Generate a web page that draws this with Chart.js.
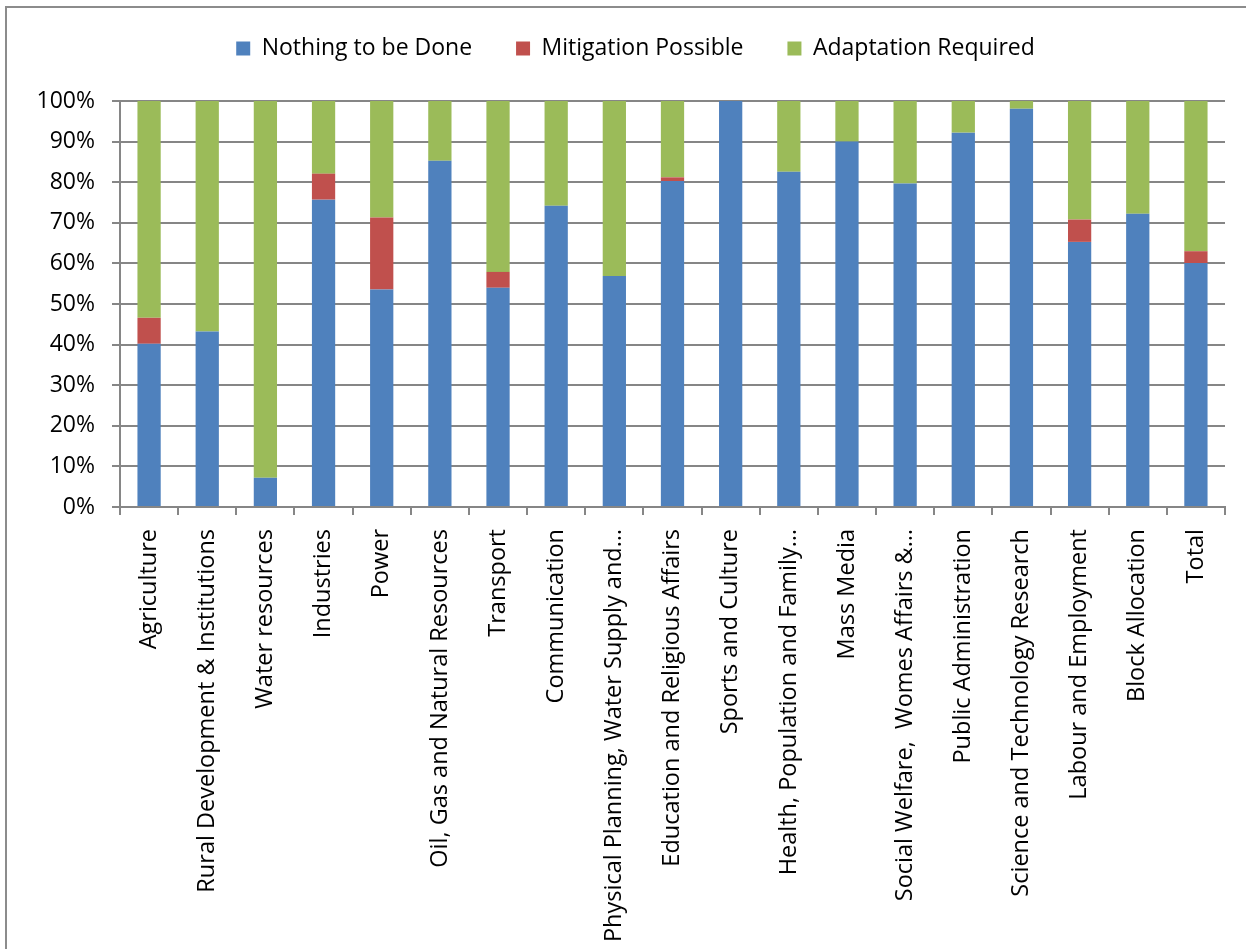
<!DOCTYPE html>
<html>
<head>
<meta charset="utf-8">
<script src="https://cdn.jsdelivr.net/npm/chart.js@4.4.1/dist/chart.umd.min.js"></script>
<style>
    html, body { margin: 0; padding: 0; background: #ffffff; }
    #wrap { position: relative; width: 1246px; height: 949px; overflow: hidden; }
    #cadre {
        position: absolute; left: 5px; top: 6px; width: 1300px; height: 1000px;
        border-left: 2px solid #8c8c8c; border-top: 2px solid #8c8c8c;
    }
    #chart { position: absolute; left: 0; top: 0; }
</style>
</head>
<body>
<div id="wrap">
    <div id="cadre"></div>
    <canvas id="chart" width="1246" height="949"></canvas>
</div>
<script>
// Secteurs (libellés tronqués tels qu'affichés sur l'axe)
var secteurs = [
    'Agriculture',
    'Rural Development & Institutions',
    'Water resources',
    'Industries',
    'Power',
    'Oil, Gas and Natural Resources',
    'Transport',
    'Communication',
    'Physical Planning, Water Supply and\u2026',
    'Education and Religious Affairs',
    'Sports and Culture',
    'Health, Population and Family\u2026',
    'Mass Media',
    'Social Welfare,  Womes Affairs &\u2026',
    'Public Administration',
    'Science and Technology Research',
    'Labour and Employment',
    'Block Allocation',
    'Total'
];

// Parts en % par secteur
var rienAFaire  = [40.2, 43.2, 7.2, 75.7, 53.6, 85.3, 54.0, 74.2, 56.9, 80.3, 100, 82.6, 90.0, 79.7, 92.2, 98.1, 65.3, 72.2, 60.1];
var attenuation = [6.4, 0, 0, 6.4, 17.7, 0, 3.9, 0, 0, 0.9, 0, 0, 0, 0, 0, 0, 5.5, 0, 2.9];
var adaptation  = [53.4, 56.8, 92.8, 17.9, 28.7, 14.7, 42.1, 25.8, 43.1, 18.8, 0, 17.4, 10.0, 20.3, 7.8, 1.9, 29.2, 27.8, 37.0];

var graduations = [0, 10, 20, 30, 40, 50, 60, 70, 80, 90, 100];

var GRIS = '#868686';
var POLICE = 'Open Sans';

// Décale la légende (vers le haut et un peu à droite) sans toucher à la zone de tracé.
var decalageLegende = {
    id: 'decalageLegende',
    afterLayout: function (chart) {
        var leg = chart.legend;
        if (!leg) { return; }
        leg.top -= 31; leg.bottom -= 31;
        leg.left += 23; leg.right += 23;
    }
};

new Chart(document.getElementById('chart'), {
    type: 'bar',
    data: {
        labels: secteurs,
        datasets: [
            { label: 'Nothing to be Done',  data: rienAFaire,  backgroundColor: '#4f81bd' },
            { label: 'Mitigation Possible', data: attenuation, backgroundColor: '#c0504d' },
            { label: 'Adaptation Required', data: adaptation,  backgroundColor: '#9bbb59' }
        ]
    },
    plugins: [decalageLegende],
    options: {
        responsive: false,
        animation: false,
        devicePixelRatio: 1,
        layout: { padding: { left: 0, right: 21, top: 24, bottom: 0 } },
        datasets: {
            bar: { categoryPercentage: 1, barPercentage: 0.4, borderWidth: 0 }
        },
        plugins: {
            tooltip: { enabled: false },
            legend: {
                position: 'top',
                labels: {
                    color: '#000000',
                    boxWidth: 14,
                    boxHeight: 14,
                    padding: 44,
                    font: { family: POLICE, size: 23 }
                }
            }
        },
        scales: {
            x: {
                stacked: true,
                afterFit: function (axe) { axe.height = 442; },
                border: { display: true, color: GRIS, width: 2 },
                grid: { drawOnChartArea: false, drawTicks: true, tickLength: 8, color: GRIS, lineWidth: 2 },
                ticks: {
                    color: '#000000',
                    minRotation: 90,
                    maxRotation: 90,
                    autoSkip: false,
                    padding: 14,
                    font: { family: POLICE, size: 23.5 }
                }
            },
            y: {
                stacked: true,
                min: 0,
                max: 100,
                afterFit: function (axe) { axe.width = 120; },
                afterBuildTicks: function (axe) {
                    axe.ticks = graduations.map(function (v) { return { value: v }; });
                },
                border: { display: true, color: GRIS, width: 2 },
                grid: { color: GRIS, lineWidth: 2, tickLength: 8 },
                ticks: {
                    color: '#000000',
                    padding: 17,
                    font: { family: POLICE, size: 23 },
                    callback: function (v) { return v + '%'; }
                }
            }
        }
    }
});
</script>
</body>
</html>
